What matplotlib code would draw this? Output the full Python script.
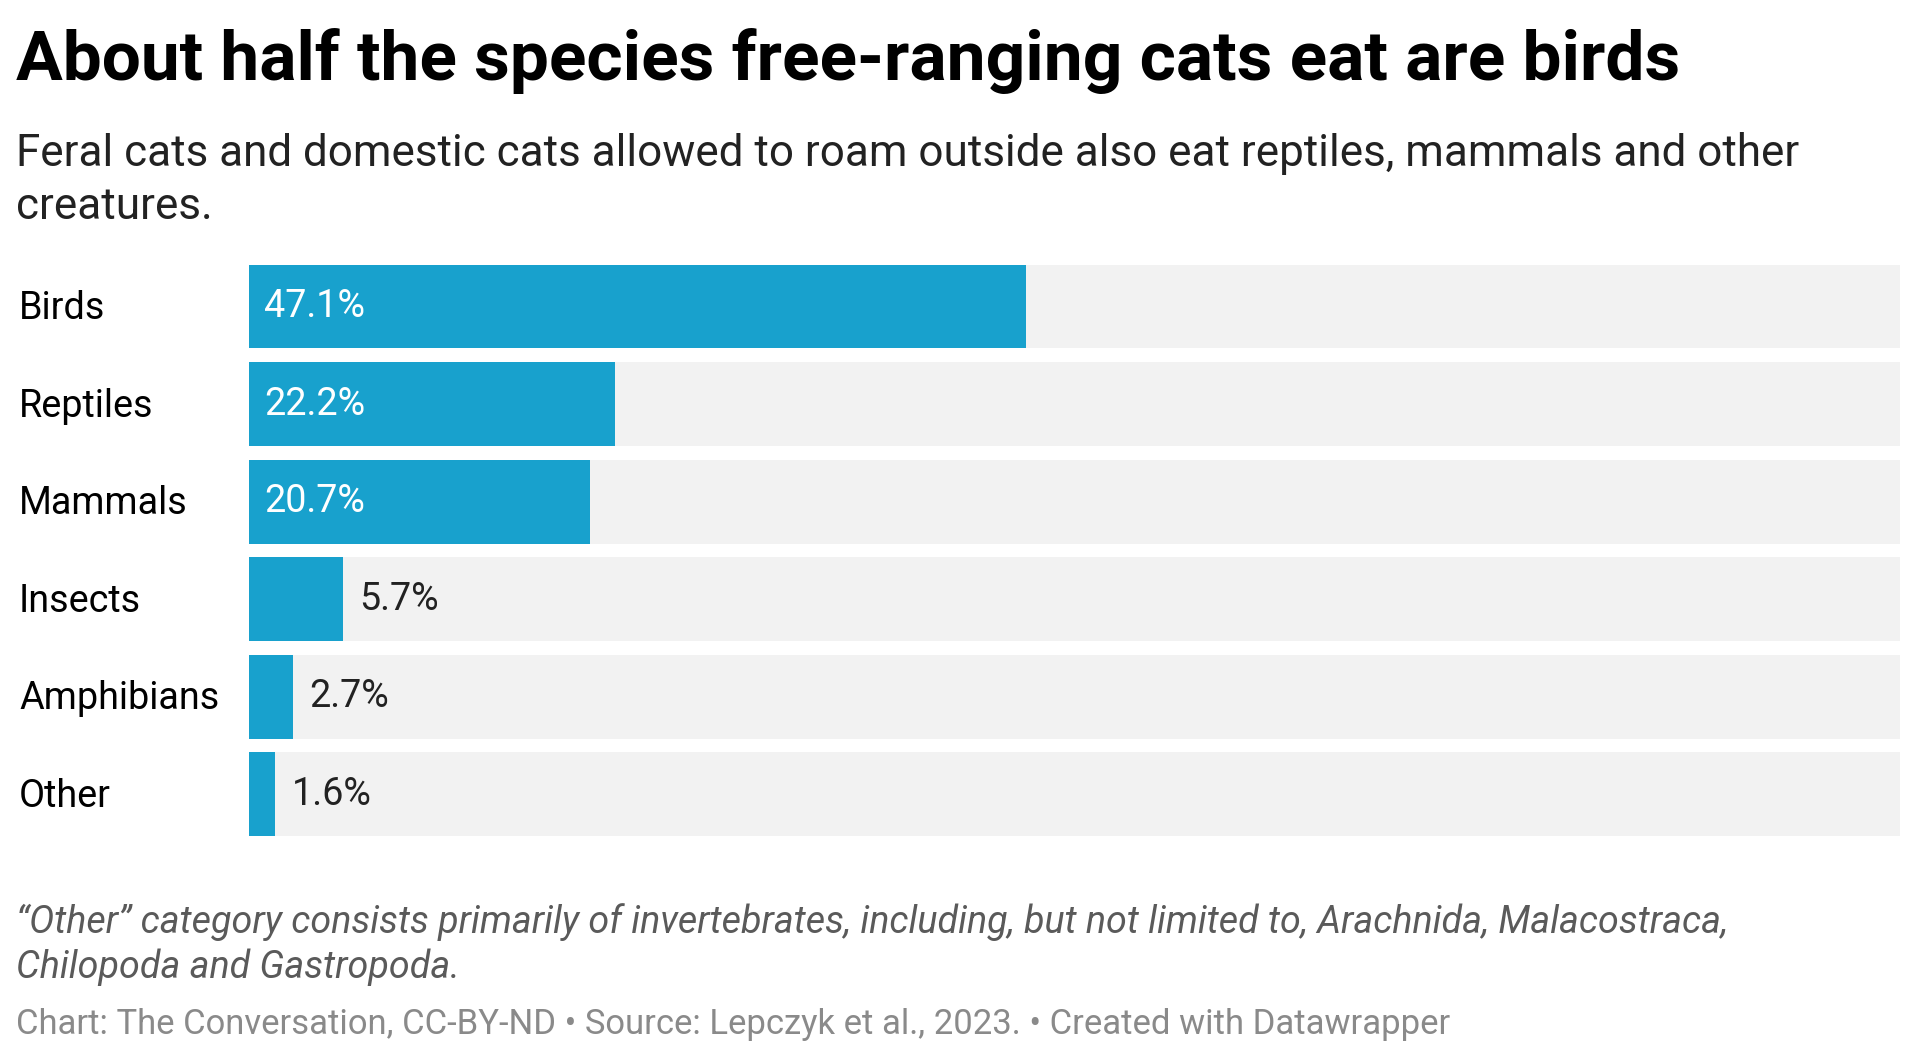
import matplotlib.pyplot as plt

categories = ["Birds", "Reptiles", "Mammals", "Insects", "Amphibians", "Other"]
shares = [47.1, 22.2, 20.7, 5.7, 2.7, 1.6]
value_labels = ["47.1%", "22.2%", "20.7%", "5.7%", "2.7%", "1.6%"]

W, H = 1920, 1061
plt.rcParams["font.family"] = ["Roboto", "DejaVu Sans"]

fig = plt.figure(figsize=(W / 100, H / 100), dpi=100)


def px(x, y):
    return x / W, 1 - y / H


# header
fig.text(*px(16, 80), "About half the species free-ranging cats eat are birds",
         fontsize=50, fontweight="bold", va="baseline", ha="left")
fig.text(*px(16, 166), "Feral cats and domestic cats allowed to roam outside also eat reptiles, mammals and other",
         fontsize=31.7, va="baseline", ha="left", color="#222222")
fig.text(*px(16, 219), "creatures.", fontsize=31.7, va="baseline", ha="left", color="#222222")

# bars
left, right = 248.6, 1900
top, bottom = 264.5, 836.3
ax = fig.add_axes([left / W, 1 - bottom / H, (right - left) / W, (bottom - top) / H])
ys = list(range(len(categories)))
h = 0.86
ax.barh(ys, [100] * len(ys), height=h, color="#f2f2f2")
ax.barh(ys, shares, height=h, color="#18a1cd")
ax.set_xlim(0, 100)
ax.set_ylim(len(ys) - 1 + h / 2, -h / 2)
ax.axis("off")

for y, v, lab, cat in zip(ys, shares, value_labels, categories):
    if v > 10:
        ax.text(0.95, y, lab, color="white", fontsize=27.2, va="center", ha="left")
    else:
        ax.text(v + 1.0, y, lab, color="#222222", fontsize=27.2, va="center", ha="left")
    yc = top + (y + h / 2) * (bottom - top) / (len(ys) - 1 + h)
    fig.text(19 / W, 1 - (yc + 2) / H, cat, fontsize=27.2, va="center", ha="left")

# footer
fig.text(*px(16, 933), "\u201cOther\u201d category consists primarily of invertebrates, including, but not limited to, Arachnida, Malacostraca,",
         fontsize=27.1, style="italic", color="#5a5a5a", va="baseline", ha="left")
fig.text(*px(16, 978), "Chilopoda and Gastropoda.",
         fontsize=27.1, style="italic", color="#5a5a5a", va="baseline", ha="left")
fig.text(*px(16, 1034), "Chart: The Conversation, CC-BY-ND \u2022 Source: Lepczyk et al., 2023. \u2022 Created with Datawrapper",
         fontsize=24.9, color="#8a8a8a", va="baseline", ha="left")

fig.savefig("out.png", dpi=100, facecolor="white")
